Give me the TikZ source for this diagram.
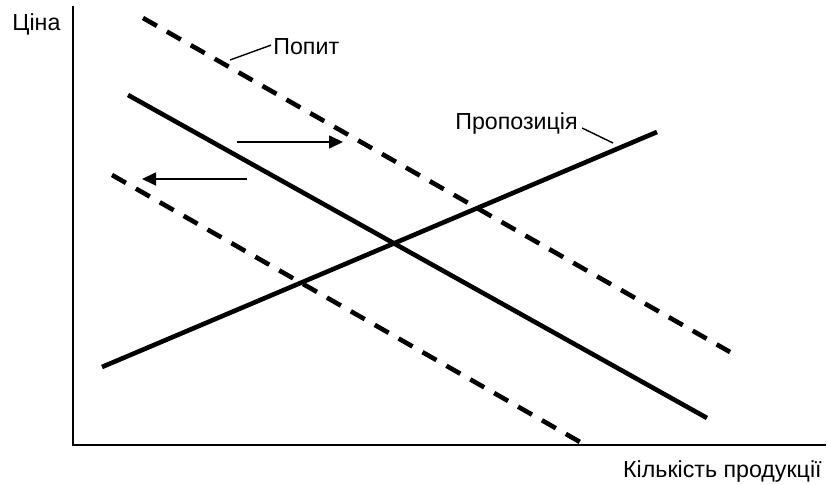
\documentclass[tikz,border=0pt]{standalone}
\usepackage{fontspec}
\setmainfont{Liberation Sans}
\usetikzlibrary{arrows.meta, positioning}

\begin{document}
\begin{tikzpicture}[x=0.5pt, y=-0.5pt, >={Triangle[length=7pt, width=6.5pt]},
    curve/.style={line width=2.3pt},
    shifted/.style={line width=2.3pt, dash pattern=on 8pt off 5.75pt},
    leader/.style={line width=0.7pt},
    shiftarrow/.style={->, line width=0.8pt},
    lbl/.style={inner sep=0pt, font=\fontsize{11.6}{13}\selectfont}]
  \useasboundingbox (0,0) rectangle (828,485);

  % Axes
  \coordinate (top) at (73,6);
  \coordinate (origin) at (73,445);
  \coordinate (right) at (826,445);
  \draw[line width=1.3pt] (top) -- (origin) -- (right);
  \node[lbl, anchor=base west] (price) at (12,31) {Ціна};
  \node[lbl, anchor=base east] (qty) at (822,477) {Кількість продукції};

  % Demand curves
  \coordinate (d1) at (128,95);
  \coordinate (d2) at (707,418);
  \draw[curve] (d1) -- (d2);
  \coordinate (u1) at (143,18);
  \coordinate (u2) at (730,352);
  \draw[shifted] (u1) -- (u2);
  \coordinate (l1) at (112,175);
  \coordinate (l2) at (580,442);
  \draw[shifted] (l1) -- (l2);

  % Supply curve
  \coordinate (s1) at (102,367);
  \coordinate (s2) at (657,132);
  \draw[curve] (s1) -- (s2);

  % Labels
  \node[lbl, anchor=base west] (demand) at (273,55) {Попит};
  \coordinate (dtip) at (230,60);
  \draw[leader] (demand.west) ++(-2,-2) coordinate (dfoot) (dfoot) -- (dtip);
  \node[lbl, anchor=base west] (supply) at (455,130) {Пропозиція};
  \coordinate (stip) at (613,143);
  \draw[leader] (supply.east) ++(4,4) coordinate (sfoot) (sfoot) -- (stip);

  % Shifts
  \coordinate (ra) at (237,142);
  \coordinate (rb) at (343,142);
  \draw[shiftarrow] (ra) -- (rb);
  \coordinate (la) at (247,179);
  \coordinate (lb) at (142,179);
  \draw[shiftarrow] (la) -- (lb);
\end{tikzpicture}
\end{document}
